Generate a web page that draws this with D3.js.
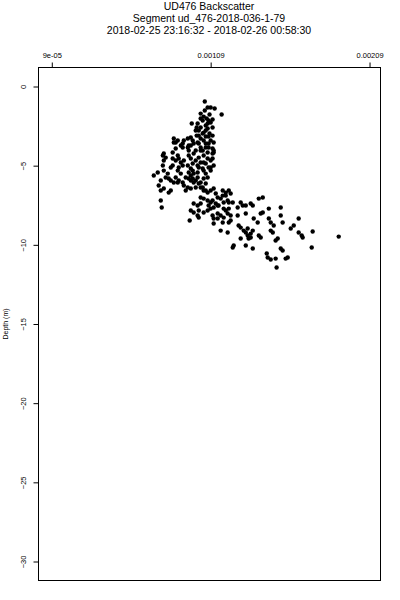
<!DOCTYPE html>
<html lang="en">
<head>
    <meta charset="UTF-8">
    <title>UD476 Backscatter</title>
    <script src="https://d3js.org/d3.v7.min.js"></script>
    <style>
        html, body {
            margin: 0;
            background: #fff;
            font-family: "Liberation Sans", Arial, sans-serif;
        }
    </style>
</head>
<body>
    <div id="vis"></div>
    <script>

        // title lines
        var titleLines = [
            "UD476 Backscatter",
            "Segment ud_476-2018-036-1-79",
            "2018-02-25 23:16:32 - 2018-02-26 00:58:30"
        ];

        // axis ticks
        var xTicks = [9e-05, 0.00109, 0.00209];
        var xTickLabels = ["9e-05", "0.00109", "0.00209"];
        var yTicks = [0, -5, -10, -15, -20, -25, -30];
        var yLabel = "Depth (m)";

        // axis limits (R style, data range + 4%)
        var xLimits = [6.4e-06, 0.002159];
        var yLimits = [-31.2, 1.2];

        // [backscatter, depth]
        var samples = [
            [1.053e-3, -0.95], [1.071e-3, -1.33], [1.090e-3, -1.33], [1.115e-3, -1.39], [1.159e-3, -1.77],
            [1.027e-3, -1.71], [1.046e-3, -1.90], [1.065e-3, -2.02], [1.077e-3, -2.15], [1.090e-3, -2.27],
            [1.071e-3, -2.34], [1.102e-3, -2.08], [0.971e-3, -2.34], [1.008e-3, -2.34], [1.027e-3, -2.59],
            [1.015e-3, -2.78], [1.040e-3, -2.97], [1.046e-3, -2.91], [1.071e-3, -2.65], [1.083e-3, -2.97],
            [1.102e-3, -3.10], [1.109e-3, -3.54], [1.090e-3, -3.41], [0.858e-3, -3.28], [0.883e-3, -3.41],
            [0.870e-3, -3.54], [0.921e-3, -3.41], [0.946e-3, -3.28], [0.914e-3, -3.60], [0.965e-3, -3.22],
            [0.977e-3, -3.41], [0.983e-3, -3.60], [1.008e-3, -3.54], [1.027e-3, -3.28], [1.046e-3, -3.41],
            [1.059e-3, -3.60], [0.952e-3, -3.73], [1.059e-3, -2.46], [1.040e-3, -2.15], [1.059e-3, -2.78],
            [1.077e-3, -3.16], [1.015e-3, -3.10], [0.996e-3, -2.78], [1.102e-3, -2.59], [1.053e-3, -1.52],
            [1.083e-3, -1.77], [1.002e-3, -2.59], [1.027e-3, -2.02], [1.002e-3, -3.10], [1.059e-3, -3.16],
            [0.858e-3, -3.54], [0.902e-3, -3.73], [0.946e-3, -3.85], [0.965e-3, -3.73], [1.015e-3, -3.60],
            [1.027e-3, -3.85], [1.040e-3, -4.04], [1.059e-3, -3.85], [1.077e-3, -3.60], [1.077e-3, -3.85],
            [1.102e-3, -3.92], [1.109e-3, -4.17], [0.789e-3, -4.36], [0.795e-3, -4.67], [0.807e-3, -4.49],
            [0.851e-3, -4.55], [0.870e-3, -4.67], [0.889e-3, -4.55], [0.902e-3, -4.80], [0.921e-3, -4.67],
            [0.914e-3, -4.99], [0.952e-3, -4.36], [0.965e-3, -4.55], [0.977e-3, -4.86], [0.983e-3, -4.23],
            [0.996e-3, -4.67], [1.008e-3, -4.99], [1.015e-3, -4.49], [1.027e-3, -4.80], [1.040e-3, -5.18],
            [1.046e-3, -4.36], [1.059e-3, -4.86], [1.071e-3, -4.55], [1.077e-3, -5.12], [1.090e-3, -4.67],
            [1.102e-3, -4.23], [1.109e-3, -4.04], [1.109e-3, -4.99], [0.757e-3, -5.43], [0.732e-3, -5.62],
            [0.795e-3, -5.31], [0.820e-3, -5.50], [0.826e-3, -5.81], [0.807e-3, -5.75], [0.870e-3, -5.75],
            [0.889e-3, -5.94], [0.914e-3, -6.06], [0.921e-3, -6.25], [0.946e-3, -6.38], [0.965e-3, -6.44],
            [0.883e-3, -5.31], [0.902e-3, -5.50], [0.952e-3, -5.43], [0.965e-3, -5.62], [0.983e-3, -5.50],
            [0.977e-3, -5.81], [0.996e-3, -5.94], [1.008e-3, -5.75], [1.015e-3, -6.13], [1.027e-3, -6.06],
            [1.040e-3, -6.38], [1.046e-3, -6.57], [1.071e-3, -6.70], [1.090e-3, -6.57], [1.059e-3, -5.50],
            [1.071e-3, -5.75], [1.090e-3, -5.31], [0.776e-3, -5.94], [0.763e-3, -6.25], [0.795e-3, -6.44],
            [0.776e-3, -6.57], [0.826e-3, -6.70], [0.839e-3, -6.57], [1.109e-3, -6.44], [1.122e-3, -6.76],
            [1.134e-3, -7.01], [1.153e-3, -7.08], [1.166e-3, -6.89], [1.185e-3, -6.89], [1.197e-3, -7.20],
            [1.204e-3, -7.33], [0.776e-3, -7.20], [0.782e-3, -7.64], [0.983e-3, -7.39], [1.008e-3, -7.52],
            [1.027e-3, -7.39], [1.077e-3, -7.52], [1.090e-3, -7.33], [1.109e-3, -7.64], [1.134e-3, -7.52],
            [0.795e-3, -4.23], [0.851e-3, -4.17], [0.883e-3, -4.36], [0.914e-3, -3.85], [0.870e-3, -3.92],
            [0.952e-3, -4.04], [1.046e-3, -4.80], [1.102e-3, -4.55], [1.090e-3, -5.12], [0.889e-3, -5.12],
            [0.789e-3, -4.99], [0.851e-3, -4.99], [0.839e-3, -5.12], [0.946e-3, -4.99], [0.965e-3, -5.18],
            [0.977e-3, -5.31], [1.008e-3, -5.43], [1.015e-3, -5.12], [0.839e-3, -5.94], [0.858e-3, -6.06],
            [0.883e-3, -6.06], [0.933e-3, -5.75], [0.952e-3, -5.81], [0.965e-3, -5.94], [0.983e-3, -6.06],
            [1.046e-3, -5.31], [1.027e-3, -6.38], [1.059e-3, -6.57], [1.166e-3, -6.57], [1.185e-3, -6.70],
            [1.204e-3, -6.57], [1.216e-3, -6.76], [1.027e-3, -7.01], [1.046e-3, -7.08], [1.071e-3, -7.20],
            [1.102e-3, -7.20], [1.122e-3, -7.39], [1.140e-3, -7.52], [1.172e-3, -7.33], [1.229e-3, -7.33],
            [1.260e-3, -7.64], [1.279e-3, -7.33], [1.292e-3, -7.52], [1.311e-3, -7.52], [0.965e-3, -7.83],
            [0.983e-3, -7.96], [1.015e-3, -7.83], [1.008e-3, -8.15], [1.134e-3, -8.02], [1.153e-3, -8.15],
            [1.134e-3, -8.34], [1.090e-3, -7.71], [1.071e-3, -7.83], [1.172e-3, -7.71], [1.185e-3, -7.83],
            [1.204e-3, -7.71], [1.197e-3, -8.02], [1.216e-3, -8.15], [1.260e-3, -8.15], [1.311e-3, -8.02],
            [1.027e-3, -4.04], [0.996e-3, -4.04], [1.071e-3, -4.17], [1.046e-3, -5.81], [1.059e-3, -6.13],
            [0.996e-3, -6.38], [0.933e-3, -6.57], [1.342e-3, -7.39], [1.355e-3, -7.52], [1.393e-3, -7.08],
            [1.418e-3, -7.01], [1.046e-3, -7.96], [0.958e-3, -8.46], [1.015e-3, -8.28], [1.102e-3, -8.15],
            [1.109e-3, -8.34], [1.172e-3, -8.28], [1.166e-3, -8.59], [1.109e-3, -8.65], [1.204e-3, -8.59],
            [1.216e-3, -8.46], [1.153e-3, -9.10], [1.197e-3, -9.22], [1.266e-3, -8.78], [1.279e-3, -8.91],
            [1.298e-3, -9.10], [1.311e-3, -9.22], [1.323e-3, -8.97], [1.342e-3, -9.29], [1.355e-3, -9.10],
            [1.342e-3, -9.54], [1.323e-3, -9.41], [1.329e-3, -9.60], [1.279e-3, -9.60], [1.393e-3, -9.41],
            [1.405e-3, -9.54], [1.229e-3, -10.17], [1.235e-3, -10.04], [1.311e-3, -10.04], [1.355e-3, -10.23],
            [1.361e-3, -8.34], [1.386e-3, -8.59], [1.405e-3, -8.02], [1.418e-3, -7.96], [1.456e-3, -7.71],
            [1.456e-3, -8.34], [1.468e-3, -8.59], [1.487e-3, -8.78], [1.468e-3, -9.10], [1.481e-3, -9.22],
            [1.499e-3, -9.73], [1.512e-3, -9.60], [1.531e-3, -7.64], [1.531e-3, -8.15], [1.543e-3, -8.59],
            [1.531e-3, -10.23], [1.543e-3, -10.36], [1.575e-3, -10.80], [1.562e-3, -10.87], [1.443e-3, -10.55],
            [1.449e-3, -10.80], [1.468e-3, -10.93], [1.499e-3, -10.87], [1.505e-3, -11.43], [1.594e-3, -8.97],
            [1.613e-3, -8.78], [1.644e-3, -8.34], [1.644e-3, -9.22], [1.663e-3, -9.41], [1.669e-3, -9.54],
            [1.732e-3, -9.16], [1.726e-3, -10.17], [1.896e-3, -9.48]
        ];

        var plot = {left: 38.5, right: 380.5, top: 67.5, bottom: 580.5};

        var svg = d3.select('#vis')
            .append('svg')
                .attr('width', 400)
                .attr('height', 600)
                .style('display', 'block');

        var x_scale = d3.scaleLinear()
            .domain(xLimits)
            .range([plot.left, plot.right]);

        var y_scale = d3.scaleLinear()
            .domain(yLimits)
            .range([plot.bottom, plot.top]);

        // titles
        svg.append('g')
            .selectAll('text')
            .data(titleLines)
            .enter()
            .append('text')
                .attr('x', 209)
                .attr('y', function(d, i){ return 10 + i * 12; })
                .attr('text-anchor', 'middle')
                .attr('font-size', '10.5px')
                .attr('fill', '#000')
                .text(function(d){ return d; });

        // top axis
        var x_axis = d3.axisTop(x_scale)
            .tickValues(xTicks)
            .tickFormat(function(d, i){ return xTickLabels[i]; })
            .tickSize(5)
            .tickPadding(5);

        svg.append('g')
            .attr('class', 'x axis')
            .attr('transform', 'translate(0,' + plot.top + ')')
            .call(x_axis);

        // left axis, labels turned like R does
        var y_axis = d3.axisLeft(y_scale)
            .tickValues(yTicks)
            .tickFormat(d3.format('d'))
            .tickSize(5);

        var gy = svg.append('g')
            .attr('class', 'y axis')
            .attr('transform', 'translate(' + plot.left + ',0)')
            .call(y_axis);

        gy.selectAll('.tick text')
            .attr('x', null)
            .attr('dy', null)
            .attr('text-anchor', 'middle')
            .attr('transform', 'translate(-12.5,0)rotate(-90)');

        svg.selectAll('.axis path').remove();
        svg.selectAll('.axis text')
            .attr('font-family', '"Liberation Sans", Arial, sans-serif')
            .attr('font-size', '7.5px')
            .attr('fill', '#000');
        svg.selectAll('.axis line')
            .attr('stroke', '#000');

        svg.append('text')
            .attr('transform', 'translate(8,' + ((plot.top + plot.bottom) / 2) + ')rotate(-90)')
            .attr('text-anchor', 'middle')
            .attr('font-size', '7px')
            .attr('fill', '#000')
            .text(yLabel);

        // plot frame
        svg.append('rect')
            .attr('x', plot.left)
            .attr('y', plot.top)
            .attr('width', plot.right - plot.left)
            .attr('height', plot.bottom - plot.top)
            .attr('fill', 'none')
            .attr('stroke', '#000')
            .attr('stroke-width', 1);

        // points
        svg.append('g')
            .selectAll('circle')
            .data(samples)
            .enter()
            .append('circle')
                .attr('cx', function(d){ return x_scale(d[0]); })
                .attr('cy', function(d){ return y_scale(d[1]); })
                .attr('r', 2.2)
                .attr('fill', '#000');
    </script>
</body>
</html>
